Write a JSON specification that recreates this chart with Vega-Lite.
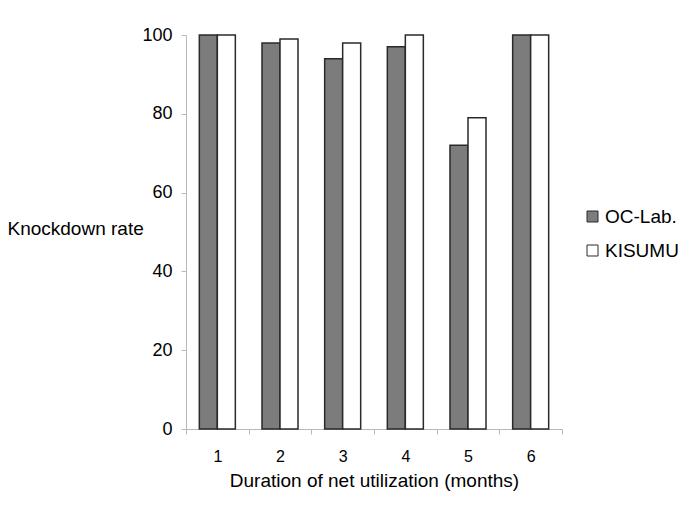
{
  "$schema": "https://vega.github.io/schema/vega-lite/v6.json",
  "autosize": "none",
  "padding": {"left": 186, "top": 35, "right": 123, "bottom": 84},
  "width": 376,
  "height": 394,
  "background": "white",
  "config": {
    "view": {"stroke": null},
    "font": "Liberation Sans"
  },
  "data": {
    "values": [
      {"month": "1", "strain": "OC-Lab.", "rate": 100},
      {"month": "1", "strain": "KISUMU", "rate": 100},
      {"month": "2", "strain": "OC-Lab.", "rate": 98},
      {"month": "2", "strain": "KISUMU", "rate": 99},
      {"month": "3", "strain": "OC-Lab.", "rate": 94},
      {"month": "3", "strain": "KISUMU", "rate": 98},
      {"month": "4", "strain": "OC-Lab.", "rate": 97},
      {"month": "4", "strain": "KISUMU", "rate": 100},
      {"month": "5", "strain": "OC-Lab.", "rate": 72},
      {"month": "5", "strain": "KISUMU", "rate": 79},
      {"month": "6", "strain": "OC-Lab.", "rate": 100},
      {"month": "6", "strain": "KISUMU", "rate": 100}
    ]
  },
  "mark": {"type": "bar", "stroke": "#2a2a2a", "strokeWidth": 1.5},
  "encoding": {
    "x": {
      "field": "month",
      "type": "ordinal",
      "scale": {"paddingInner": 0, "paddingOuter": 0},
      "axis": {
        "title": "Duration of net utilization (months)",
        "titleFontSize": 19,
        "titleFontWeight": "normal",
        "titleColor": "black",
        "titlePadding": 7,
        "labelAngle": 0,
        "labelFontSize": 16,
        "labelColor": "black",
        "labelPadding": 14,
        "tickBand": "extent",
        "tickSize": 5,
        "tickColor": "#b8b8b8",
        "domainColor": "#b8b8b8"
      }
    },
    "xOffset": {
      "field": "strain",
      "type": "nominal",
      "sort": ["OC-Lab.", "KISUMU"],
      "scale": {"paddingInner": 0, "paddingOuter": 0.74}
    },
    "y": {
      "field": "rate",
      "type": "quantitative",
      "scale": {"domain": [0, 100], "nice": false},
      "axis": {
        "values": [0, 20, 40, 60, 80, 100],
        "grid": false,
        "title": "Knockdown rate",
        "titleAngle": 0,
        "titleAlign": "left",
        "titleBaseline": "middle",
        "titleX": -179,
        "titleY": 193,
        "titleFontSize": 19,
        "titleFontWeight": "normal",
        "titleColor": "black",
        "labelFontSize": 18,
        "labelColor": "black",
        "labelPadding": 9,
        "tickSize": 5,
        "tickColor": "#b8b8b8",
        "domainColor": "#b8b8b8"
      }
    },
    "fill": {
      "field": "strain",
      "type": "nominal",
      "sort": ["OC-Lab.", "KISUMU"],
      "scale": {"domain": ["OC-Lab.", "KISUMU"], "range": ["#7c7c7c", "#ffffff"]},
      "legend": {
        "title": null,
        "orient": "none",
        "legendX": 397,
        "legendY": 172,
        "symbolType": "square",
        "symbolSize": 121,
        "symbolStrokeColor": "#2a2a2a",
        "symbolStrokeWidth": 1,
        "symbolOpacity": 1,
        "labelFontSize": 19,
        "labelColor": "black",
        "labelOffset": 3,
        "rowPadding": 14
      }
    }
  }
}
